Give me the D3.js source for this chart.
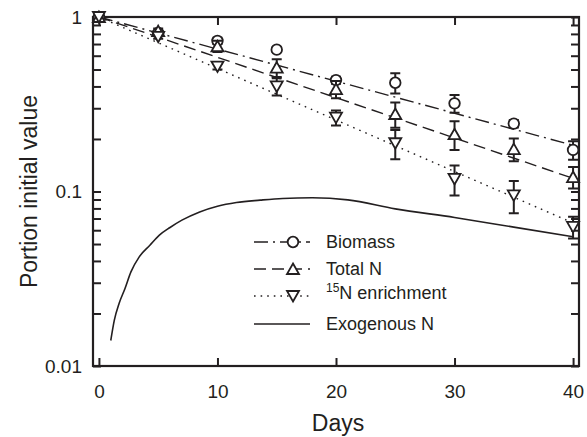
<!DOCTYPE html>
<html>
<head>
<meta charset="utf-8">
<script src="https://cdn.jsdelivr.net/npm/d3@7"></script>
<style>
  body { margin: 0; background: #fff; }
  svg { display: block; font-family: "Liberation Sans", Arial, Helvetica, sans-serif; }
</style>
</head>
<body>
<div id="chart"></div>
<script>
// decay of biomass / N over time, log y axis

const days = [0, 5, 10, 15, 20, 25, 30, 35, 40];
const biomass = [1, 0.81, 0.73, 0.65, 0.435, 0.42, 0.32, 0.245, 0.173];
const biomassErr = [0, 0.02, 0.03, 0.02, 0.02, 0.056, 0.037, 0.012, 0.021];
const totalN = [1, 0.83, 0.68, 0.513, 0.386, 0.278, 0.213, 0.175, 0.121];
const totalNErr = [0, 0.03, 0.05, 0.06, 0.044, 0.046, 0.04, 0.026, 0.017];
const n15 = [1, 0.77, 0.52, 0.40, 0.265, 0.189, 0.118, 0.095, 0.0627];
const n15Err = [0, 0.02, 0.02, 0.045, 0.026, 0.036, 0.023, 0.02, 0.009];

// fitted exponential lines (straight on log scale)
const fitDays = [0, 40];
const biomassFit = [1, 0.184];
const totalNFit = [1, 0.119];
const n15Fit = [1, 0.066];

// exogenous N curve
const exoDays = [1, 1.3, 1.7, 2.2, 2.7, 3.4, 4.3, 5.1, 6, 7, 8.5, 10, 11.6, 13.6, 15.5, 18, 21, 25, 30, 35, 40];
const exoVals = [0.014, 0.0183, 0.0228, 0.0278, 0.0346, 0.0422, 0.0492, 0.0562, 0.0622, 0.0685, 0.0764, 0.0824, 0.0865, 0.0892, 0.0912, 0.092, 0.0895, 0.0795, 0.071, 0.0625, 0.055];

const xTicks = [0, 10, 20, 30, 40];
const legendLabels = ["Biomass", "Total N", "N enrichment", "Exogenous N"];

const width = 587, height = 437;
const x = d3.scaleLinear().domain([-0.5, 40.5]).range([93, 579]);
const y = d3.scaleLog().domain([0.01, 1]).range([366, 17]);

const svg = d3.select("#chart").append("svg")
  .attr("width", width)
  .attr("height", height);

const fontCol = "#231f20";
const isPow = d => Math.abs(Math.log10(d) - Math.round(Math.log10(d))) < 1e-6;

// axes, ticks pointing inward
const yTicks = y.ticks();
svg.append("g")
  .attr("transform", `translate(${x.range()[0]},0)`)
  .call(d3.axisLeft(y).tickValues(yTicks).tickSize(-8).tickPadding(11)
    .tickFormat(d => isPow(d) ? (d === 1 ? "1" : d3.format("~g")(d)) : ""))
  .call(g => g.select(".domain").remove())
  .call(g => g.selectAll("line").attr("stroke-width", 2).attr("stroke", "#231f20"))
  .call(g => g.selectAll("text").attr("font-size", 19).attr("fill", fontCol));

svg.append("g")
  .attr("transform", `translate(${x.range()[1]},0)`)
  .call(d3.axisRight(y).tickValues(yTicks).tickSize(-8).tickFormat(""))
  .call(g => g.select(".domain").remove())
  .call(g => g.selectAll("line").attr("stroke-width", 2).attr("stroke", "#231f20"));

svg.append("g")
  .attr("transform", `translate(0,${y.range()[0]})`)
  .call(d3.axisBottom(x).tickValues(xTicks).tickSize(-8).tickPadding(19).tickFormat(d3.format("d")))
  .call(g => g.select(".domain").remove())
  .call(g => g.selectAll("line").attr("stroke-width", 2).attr("stroke", "#231f20"))
  .call(g => g.selectAll("text").attr("font-size", 19).attr("fill", fontCol));

svg.append("g")
  .attr("transform", `translate(0,${y.range()[1]})`)
  .call(d3.axisTop(x).tickValues(xTicks).tickSize(-8).tickFormat(""))
  .call(g => g.select(".domain").remove())
  .call(g => g.selectAll("line").attr("stroke-width", 2).attr("stroke", "#231f20"));

svg.append("rect")
  .attr("x", x.range()[0]).attr("y", y.range()[1])
  .attr("width", x.range()[1] - x.range()[0])
  .attr("height", y.range()[0] - y.range()[1])
  .attr("fill", "none").attr("stroke", "#231f20").attr("stroke-width", 2.2);

// axis titles
svg.append("text")
  .attr("x", 338).attr("y", 431)
  .attr("text-anchor", "middle")
  .attr("font-size", 23).attr("fill", fontCol)
  .text("Days");

svg.append("text")
  .attr("transform", `translate(37,${(y.range()[0] + y.range()[1]) / 2}) rotate(-90)`)
  .attr("text-anchor", "middle")
  .attr("font-size", 23).attr("fill", fontCol)
  .text("Portion initial value");

// fitted lines
const line = d3.line().x(d => x(d[0])).y(d => y(d[1]));
const series = [
  {name: "Biomass", vals: biomass, err: biomassErr, fit: biomassFit, dash: "14,5,2,5", sym: "circle"},
  {name: "Total N", vals: totalN, err: totalNErr, fit: totalNFit, dash: "12,6", sym: "up"},
  {name: "15N", vals: n15, err: n15Err, fit: n15Fit, dash: "1.6,5", sym: "down"}
];

series.forEach(s => {
  svg.append("path")
    .datum(fitDays.map((d, i) => [d, s.fit[i]]))
    .attr("fill", "none").attr("stroke", "#231f20")
    .attr("stroke-width", 1.4)
    .attr("stroke-dasharray", s.dash)
    .attr("d", line);
});

// exogenous curve
svg.append("path")
  .datum(exoDays.map((d, i) => [d, exoVals[i]]))
  .attr("fill", "none").attr("stroke", "#231f20").attr("stroke-width", 1.6)
  .attr("d", line.curve(d3.curveMonotoneX));

function symPath(type) {
  if (type === "circle") return "M5.3,0A5.3,5.3 0 1,1 -5.3,0A5.3,5.3 0 1,1 5.3,0Z";
  if (type === "up") return "M0,-5.5L6,5L-6,5Z";
  return "M0,5.5L6,-5L-6,-5Z";
}

// error bars + symbols
series.forEach(s => {
  const g = svg.append("g").attr("stroke", "#231f20").attr("stroke-width", 2).attr("fill", "none");
  const pts = days.map((d, i) => ({d, v: s.vals[i], e: s.err[i]})).filter(p => p.e > 0);
  g.selectAll("path.eb")
    .data(pts)
    .join("path")
    .attr("class", "eb")
    .attr("d", p => {
      const cx = x(p.d), y1 = y(p.v + p.e), y2 = y(p.v - p.e);
      return `M${cx - 5},${y1}H${cx + 5}M${cx},${y1}V${y2}M${cx - 5},${y2}H${cx + 5}`;
    });
  g.selectAll("path.sym")
    .data(days.map((d, i) => [d, s.vals[i]]))
    .join("path")
    .attr("class", "sym")
    .attr("fill", "#fff")
    .attr("stroke-width", 1.8)
    .attr("transform", d => `translate(${x(d[0])},${y(d[1])})`)
    .attr("d", symPath(s.sym));
});

// legend
const legRows = [242, 269, 296, 324];
const leg = svg.append("g");
const legStyles = [
  {dash: "14,5,2,5", sym: "circle"},
  {dash: "12,6", sym: "up"},
  {dash: "1.6,5", sym: "down"},
  {dash: null, sym: null}
];
legStyles.forEach((st, i) => {
  const ly = legRows[i];
  leg.append("line")
    .attr("x1", 254).attr("x2", 310).attr("y1", ly).attr("y2", ly)
    .attr("stroke", "#231f20").attr("stroke-width", 1.4)
    .attr("stroke-dasharray", st.dash);
  if (st.sym) {
    leg.append("path")
      .attr("transform", `translate(293,${ly})`)
      .attr("d", symPath(st.sym))
      .attr("fill", "#fff").attr("stroke", "#231f20").attr("stroke-width", 1.8);
  }
  const t = leg.append("text")
    .attr("x", 326).attr("y", ly)
    .attr("dy", "0.35em")
    .attr("font-size", 18).attr("fill", fontCol);
  if (i === 2) {
    t.append("tspan").attr("font-size", 12).attr("dy", "-0.3em").text("15");
    t.append("tspan").attr("dy", "0.35em").text(legendLabels[i]);
  } else {
    t.text(legendLabels[i]);
  }
});
</script>
</body>
</html>
